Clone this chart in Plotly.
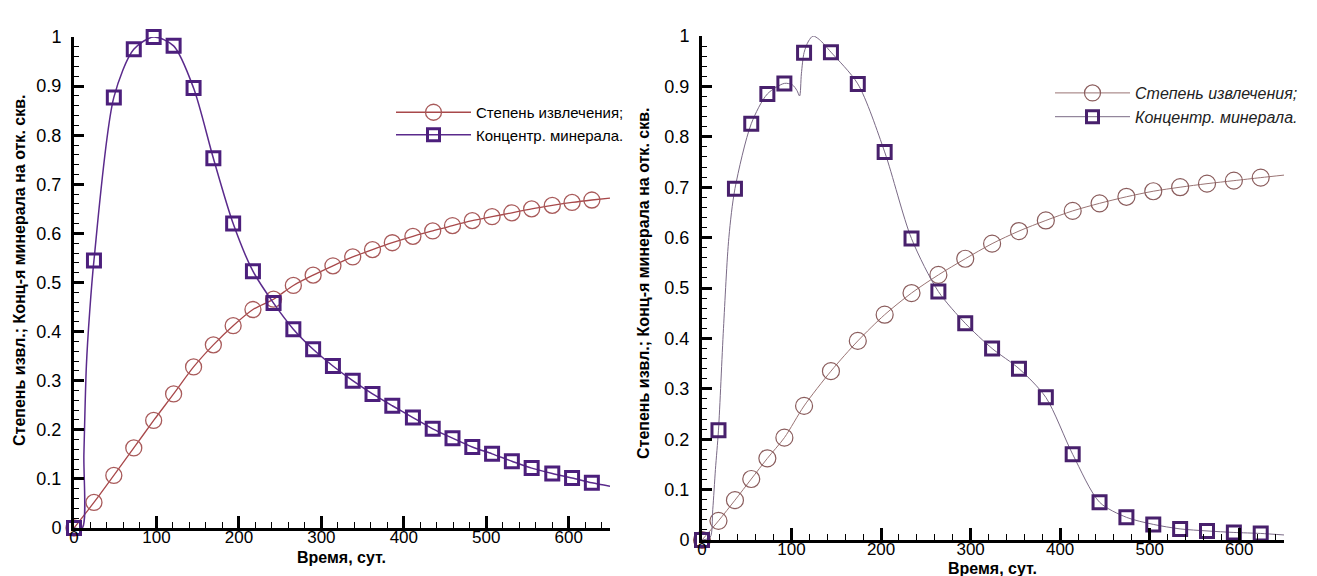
import plotly.graph_objects as go

# ---------------- data ----------------
# Left panel
left_t = [0, 24.2, 48.3, 72.5, 96.6, 120.8, 145, 169, 193, 217, 242, 266, 290, 314,
          338, 362, 386, 411, 435, 459, 483, 507, 531, 555, 580, 604, 628]
left_recovery = [0, 0.052, 0.107, 0.163, 0.219, 0.273, 0.328, 0.373, 0.412, 0.445, 0.466,
                 0.494, 0.515, 0.534, 0.552, 0.567, 0.581, 0.594, 0.605, 0.616, 0.626,
                 0.634, 0.642, 0.650, 0.657, 0.663, 0.668]
left_conc = [0, 0.545, 0.877, 0.975, 1.0, 0.982, 0.896, 0.753, 0.62, 0.523, 0.458, 0.405,
             0.364, 0.330, 0.300, 0.273, 0.249, 0.225, 0.202, 0.183, 0.165, 0.151, 0.136,
             0.122, 0.111, 0.102, 0.092]
# extra points (between / after markers)
left_rec_extra_t = [650]
left_rec_extra_v = [0.672]
left_conc_extra_t = [10, 12, 15, 19, 650]
left_conc_extra_v = [0.0, 0.15, 0.33, 0.44, 0.085]

# Right panel
right_t = [0, 18.4, 36.8, 55, 73, 92, 114, 144, 174, 204, 234, 264, 294, 324, 354, 384,
           414, 444, 474, 504, 534, 564, 594, 624]
right_recovery = [0, 0.038, 0.079, 0.121, 0.162, 0.203, 0.266, 0.335, 0.395, 0.447, 0.49,
                  0.526, 0.558, 0.588, 0.613, 0.634, 0.653, 0.668, 0.681, 0.692, 0.700,
                  0.707, 0.713, 0.719]
right_conc = [0, 0.218, 0.697, 0.826, 0.885, 0.906, 0.967, 0.968, 0.905, 0.77, 0.598, 0.493,
              0.43, 0.38, 0.34, 0.283, 0.17, 0.075, 0.045, 0.031, 0.022, 0.018, 0.015, 0.013]
right_rec_extra_t = [650]
right_rec_extra_v = [0.724]
right_conc_extra_t = [9, 12, 15, 24, 30, 101, 106, 109, 111, 119, 124, 131, 650]
right_conc_extra_v = [0.005, 0.06, 0.14, 0.42, 0.6, 0.903, 0.892, 0.881, 0.925, 0.99, 1.0, 0.993, 0.01]

x_ticks = [0, 100, 200, 300, 400, 500, 600]
y_ticks = [0, 0.1, 0.2, 0.3, 0.4, 0.5, 0.6, 0.7, 0.8, 0.9, 1]
y_labels = ["0", "0.1", "0.2", "0.3", "0.4", "0.5", "0.6", "0.7", "0.8", "0.9", "1"]

name_rec = "Степень извлечения;"
name_conc = "Концентр. минерала."
x_title = "Время, сут."
y_title = "Степень извл.; Конц-я минерала на отк. скв."


def merged(t, v, et, ev):
    pts = sorted(zip(list(t) + list(et), list(v) + list(ev)))
    return [p[0] for p in pts], [p[1] for p in pts]


FONT = "Arial, Liberation Sans, sans-serif"

# ---------------- styles ----------------
L_RED_LINE = "#a8484a"
L_RED_MK = "#a85a5a"
L_PUR_LINE = "#5a2a8c"
L_PUR_MK = "#4c1f7c"
R_RED_LINE = "#9a7474"
R_RED_MK = "#8a5c5c"
R_PUR_LINE = "#7a6a86"
R_PUR_MK = "#48206c"

fig = go.Figure()


def add_series(xa, ya, t, v, et, ev, line_color, line_w, mk_color, mk_symbol, mk_size, mk_w):
    cx, cy = merged(t, v, et, ev)
    fig.add_trace(go.Scatter(x=cx, y=cy, mode="lines", xaxis=xa, yaxis=ya,
                             line=dict(color=line_color, width=line_w, shape="spline", smoothing=0.8),
                             showlegend=False, cliponaxis=False, hoverinfo="skip"))
    fig.add_trace(go.Scatter(x=t, y=v, mode="markers", xaxis=xa, yaxis=ya,
                             marker=dict(symbol=mk_symbol, size=mk_size, color=mk_color,
                                         line=dict(color=mk_color, width=mk_w)),
                             showlegend=False, cliponaxis=False))


add_series("x", "y", left_t, left_recovery, left_rec_extra_t, left_rec_extra_v,
           L_RED_LINE, 1.3, L_RED_MK, "circle-open", 16, 1.3)
add_series("x", "y", left_t, left_conc, left_conc_extra_t, left_conc_extra_v,
           L_PUR_LINE, 1.5, L_PUR_MK, "square-open", 13, 3)
add_series("x2", "y2", right_t, right_recovery, right_rec_extra_t, right_rec_extra_v,
           R_RED_LINE, 1.0, R_RED_MK, "circle-open", 17, 1.2)
add_series("x2", "y2", right_t, right_conc, right_conc_extra_t, right_conc_extra_v,
           R_PUR_LINE, 1.0, R_PUR_MK, "square-open", 13, 3)


def legend_entry(xa, ya, name, leg, lc, lw, mc, sym, size, mw):
    fig.add_trace(go.Scatter(x=[None], y=[None], xaxis=xa, yaxis=ya, mode="lines+markers", name=name,
                             line=dict(color=lc, width=lw),
                             marker=dict(symbol=sym, size=size, color=mc, line=dict(color=mc, width=mw)),
                             legend=leg))


legend_entry("x", "y", name_rec, "legend", L_RED_LINE, 1.3, L_RED_MK, "circle-open", 16, 1.3)
legend_entry("x", "y", name_conc, "legend", L_PUR_LINE, 1.5, L_PUR_MK, "square-open", 12, 3)
legend_entry("x2", "y2", name_rec, "legend2", R_RED_LINE, 1.0, R_RED_MK, "circle-open", 16, 1.2)
legend_entry("x2", "y2", name_conc, "legend2", R_PUR_LINE, 1.0, R_PUR_MK, "square-open", 12, 3)

W, H = 1317, 576


def xaxis(domain, anchor):
    return dict(domain=domain, anchor=anchor, range=[0, 650], tickvals=x_ticks,
                ticks="inside", ticklen=12, tickwidth=3, tickcolor="black",
                minor=dict(dtick=20, ticks="inside", ticklen=6, tickwidth=1, tickcolor="black"),
                showline=True, linewidth=3, linecolor="black", showgrid=False, zeroline=False,
                tickfont=dict(family=FONT, size=17, color="black"), ticklabelstandoff=-8,
                automargin=False)


def yaxis(domain, anchor):
    return dict(domain=domain, anchor=anchor, range=[0, 1], tickvals=y_ticks, ticktext=y_labels,
                ticks="inside", ticklen=10, tickwidth=3, tickcolor="black",
                minor=dict(dtick=0.02, ticks="inside", ticklen=5, tickwidth=1, tickcolor="black"),
                showline=True, linewidth=3, linecolor="black", showgrid=False, zeroline=False,
                tickfont=dict(family=FONT, size=18, color="black"), ticklabelstandoff=6,
                automargin=False)


title_font = dict(family=FONT, size=16, color="black", weight="bold")
annotations = [
    dict(text=x_title, x=333 / W, y=1 - 549 / H, xref="paper", yref="paper",
         xanchor="center", yanchor="middle", showarrow=False, font=title_font),
    dict(text=x_title, x=985 / W, y=1 - 560 / H, xref="paper", yref="paper",
         xanchor="center", yanchor="middle", showarrow=False, font=title_font),
    dict(text=y_title, x=11 / W, y=1 - 263 / H, xref="paper", yref="paper", textangle=-90,
         xanchor="center", yanchor="middle", showarrow=False, font=title_font),
    dict(text=y_title, x=635 / W, y=1 - 276 / H, xref="paper", yref="paper", textangle=-90,
         xanchor="center", yanchor="middle", showarrow=False, font=title_font),
]

fig.update_layout(
    width=W, height=H,
    margin=dict(l=0, r=0, t=0, b=0),
    paper_bgcolor="white", plot_bgcolor="white",
    xaxis=xaxis([66 / W, 602 / W], "y"),
    yaxis=yaxis([(H - 520) / H, (H - 29) / H], "x"),
    xaxis2=xaxis([694 / W, 1276 / W], "y2"),
    yaxis2=yaxis([(H - 532) / H, (H - 28) / H], "x2"),
    annotations=annotations,
    legend=dict(x=383 / W, y=1 - 88 / H, xanchor="left", yanchor="top",
                bgcolor="rgba(0,0,0,0)", borderwidth=0, itemwidth=75,
                font=dict(family=FONT, size=15, color="black"), tracegroupgap=0),
    legend2=dict(x=1042 / W, y=1 - 68 / H, xanchor="left", yanchor="top",
                 bgcolor="rgba(0,0,0,0)", borderwidth=0, itemwidth=75,
                 font=dict(family=FONT, size=16, color="#222", style="italic"),
                 tracegroupgap=0),
    showlegend=True,
)

fig.write_html("out.html")
